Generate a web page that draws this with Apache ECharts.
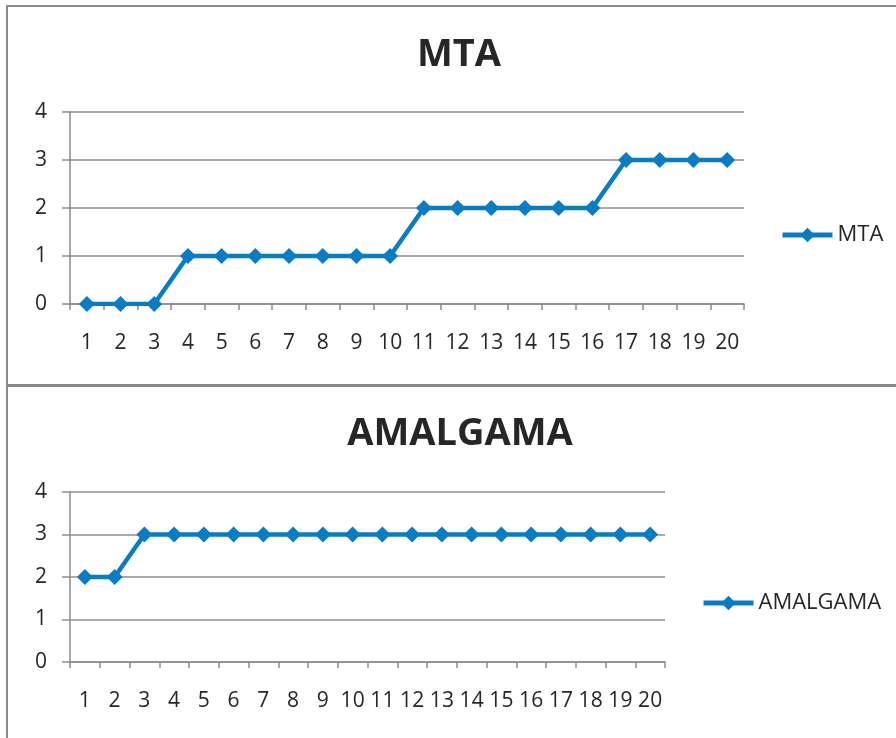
<!DOCTYPE html>
<html>
<head>
<meta charset="utf-8">
<script src="https://cdn.jsdelivr.net/npm/echarts@6/dist/echarts.min.js"></script>
<style>
  html, body { margin: 0; padding: 0; background: #fff; }
  #main { width: 896px; height: 738px; }
</style>
</head>
<body>
<div id="main"></div>
<script>
// data
const categories = ['1','2','3','4','5','6','7','8','9','10','11','12','13','14','15','16','17','18','19','20'];
const mtaValues = [0,0,0,1,1,1,1,1,1,1,2,2,2,2,2,2,3,3,3,3];
const amalgamaValues = [2,2,3,3,3,3,3,3,3,3,3,3,3,3,3,3,3,3,3,3];

const blue = '#0a7cc2';
const gridGray = '#8c8c8c';
const textColor = '#262626';
const fontFamily = '"Open Sans", "Liberation Sans", sans-serif';

function xAxisFor(idx) {
  return {
    type: 'category',
    gridIndex: idx,
    data: categories,
    boundaryGap: true,
    axisLine: { lineStyle: { color: gridGray, width: 1.5 } },
    axisTick: { show: true, length: 6, lineStyle: { color: gridGray, width: 1.5 } },
    axisLabel: { color: textColor, fontSize: 21, fontFamily: fontFamily, margin: 29, interval: 0 }
  };
}

function yAxisFor(idx) {
  return {
    type: 'value',
    gridIndex: idx,
    min: 0,
    max: 4,
    interval: 1,
    axisLine: { show: true, lineStyle: { color: gridGray, width: 1.5 } },
    axisTick: { show: true, length: 8, lineStyle: { color: gridGray, width: 1.5 } },
    axisLabel: { color: textColor, fontSize: 21, fontFamily: fontFamily, margin: 23 },
    splitLine: { lineStyle: { color: gridGray, width: 1.5 } }
  };
}

function seriesFor(name, values, idx) {
  return {
    name: name,
    type: 'line',
    xAxisIndex: idx,
    yAxisIndex: idx,
    data: values,
    symbol: 'diamond',
    symbolSize: 16,
    itemStyle: { color: blue },
    lineStyle: { color: blue, width: 4.5 },
    animation: false
  };
}

const chart = echarts.init(document.getElementById('main'), null, { renderer: 'canvas' });

const legendBase = {
  padding: 0,
  itemWidth: 50,
  itemHeight: 18,
  lineStyle: { width: 5 },
  textStyle: { fontSize: 22, color: textColor, fontFamily: fontFamily }
};

const option = {
  animation: false,
  title: [
    {
      text: 'MTA', left: 459, top: 36, padding: 0, textAlign: 'center',
      textStyle: { fontSize: 38, fontWeight: 'bold', color: textColor, fontFamily: fontFamily }
    },
    {
      text: 'AMALGAMA', left: 460, top: 415, padding: 0, textAlign: 'center',
      textStyle: { fontSize: 38, fontWeight: 'bold', color: textColor, fontFamily: fontFamily }
    }
  ],
  legend: [
    Object.assign({ data: ['MTA'], left: 780, top: 224 }, legendBase),
    Object.assign({ data: ['AMALGAMA'], left: 701, top: 592 }, legendBase)
  ],
  grid: [
    { left: 70, top: 112, width: 674, height: 192 },
    { left: 70, top: 492, width: 595, height: 170 }
  ],
  xAxis: [xAxisFor(0), xAxisFor(1)],
  yAxis: [yAxisFor(0), yAxisFor(1)],
  series: [
    seriesFor('MTA', mtaValues, 0),
    seriesFor('AMALGAMA', amalgamaValues, 1)
  ],
  graphic: [
    {
      type: 'rect', silent: true,
      shape: { x: 7, y: 6, width: 900, height: 380 },
      style: { fill: 'none', stroke: '#888', lineWidth: 2 }
    },
    {
      type: 'rect', silent: true,
      shape: { x: 7, y: 385, width: 900, height: 400 },
      style: { fill: 'none', stroke: '#888', lineWidth: 2 }
    }
  ]
};

chart.setOption(option);
</script>
</body>
</html>
